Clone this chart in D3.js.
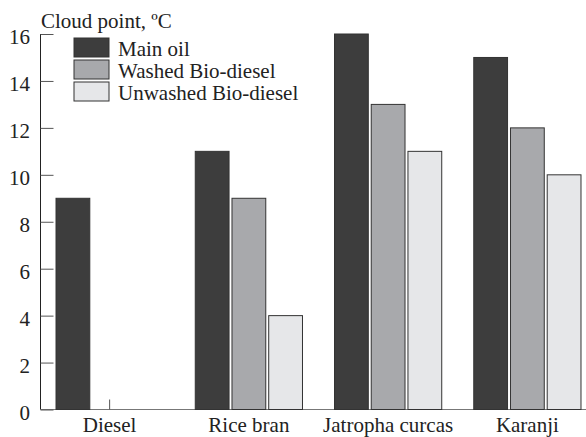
<!DOCTYPE html>
<html>
<head>
<meta charset="utf-8">
<script src="https://cdn.jsdelivr.net/npm/d3@7"></script>
<style>
  body { margin: 0; background: #fff; }
  svg text { font-family: "Liberation Serif", "DejaVu Serif", serif; fill: #222; }
</style>
</head>
<body>
<svg class="cloud-chart"></svg>
<script>
// Chart size matches the browser window
const width = 586;
const height = 437;

// Data
const categories = ["Diesel", "Rice bran", "Jatropha curcas", "Karanji"];
const seriesNames = ["Main oil", "Washed Bio-diesel", "Unwashed Bio-diesel"];
const mainOil = [9, 11, 16, 15];
const washed = [0, 9, 13, 12];
const unwashed = [0, 4, 11, 10];
const yTicks = [0, 2, 4, 6, 8, 10, 12, 14, 16];

const seriesValues = [mainOil, washed, unwashed];
const colors = ["#3d3d3d", "#a8a9ac", "#e6e7e9"];

const svg = d3.select(".cloud-chart")
    .attr("width", width)
    .attr("height", height);

// Scales
const y = d3.scaleLinear().domain([0, 16]).range([409.5, 34]);

const x0 = d3.scaleBand()
    .domain(categories)
    .range([40, 597])
    .paddingInner(0.23)
    .paddingOuter(0.115);

const x1 = d3.scaleBand()
    .domain(seriesNames)
    .range([0, x0.bandwidth()])
    .paddingInner(0.08)
    .paddingOuter(0);

// X axis line and ticks at group centers (pointing up)
svg.append("line")
    .attr("x1", 40.5).attr("x2", width)
    .attr("y1", y(0)).attr("y2", y(0))
    .attr("stroke", "#777").attr("stroke-width", 1.2);

svg.selectAll(".x-tick")
    .data(categories)
    .enter()
    .append("line")
    .attr("class", "x-tick")
    .attr("x1", d => x0(d) + x0.bandwidth() / 2)
    .attr("x2", d => x0(d) + x0.bandwidth() / 2)
    .attr("y1", y(0)).attr("y2", y(0) - 10)
    .attr("stroke", "#555");

// Bars
const rows = categories.map((c, i) => ({
    category: c,
    values: seriesNames.map((s, j) => ({ series: s, value: seriesValues[j][i], color: colors[j] }))
}));

const groups = svg.selectAll(".group")
    .data(rows)
    .enter()
    .append("g")
    .attr("class", "group")
    .attr("transform", d => `translate(${x0(d.category)},0)`);

groups.selectAll("rect")
    .data(d => d.values)
    .enter()
    .append("rect")
    .attr("x", d => x1(d.series))
    .attr("y", d => y(d.value))
    .attr("width", x1.bandwidth())
    .attr("height", d => y(0) - y(d.value))
    .attr("fill", d => d.color)
    .attr("stroke", "#333")
    .attr("stroke-width", 1);

// Y axis with inward ticks
const yAxis = svg.append("g")
    .attr("transform", "translate(40.5,0)")
    .call(d3.axisRight(y).tickValues(yTicks).tickSize(13).tickFormat(""));
yAxis.select(".domain").attr("stroke", "#222").attr("d", `M0,${y(16)}V${y(0)}`);
yAxis.selectAll(".tick line").attr("stroke", "#555");

svg.selectAll(".y-label")
    .data(yTicks)
    .enter()
    .append("text")
    .attr("class", "y-label")
    .attr("x", 30)
    .attr("y", d => y(d) + 10)
    .attr("text-anchor", "end")
    .style("font-size", "21px")
    .text(d => d);

// Category labels
svg.selectAll(".x-label")
    .data(categories)
    .enter()
    .append("text")
    .attr("class", "x-label")
    .attr("x", d => x0(d) + x0.bandwidth() / 2)
    .attr("y", 432)
    .attr("text-anchor", "middle")
    .style("font-size", "21px")
    .text(d => d);

// Axis title
svg.append("text")
    .attr("x", 41)
    .attr("y", 28)
    .style("font-size", "21px")
    .text("Cloud point, ºC");

// Legend
const legend = svg.selectAll(".legend")
    .data(seriesNames)
    .enter()
    .append("g")
    .attr("class", "legend")
    .attr("transform", (d, i) => `translate(74,${38 + i * 22})`);

legend.append("rect")
    .attr("width", 35)
    .attr("height", 19)
    .attr("fill", (d, i) => colors[i])
    .attr("stroke", "#333");

legend.append("text")
    .attr("x", 44)
    .attr("y", 18)
    .style("font-size", "21px")
    .text(d => d);
</script>
</body>
</html>
